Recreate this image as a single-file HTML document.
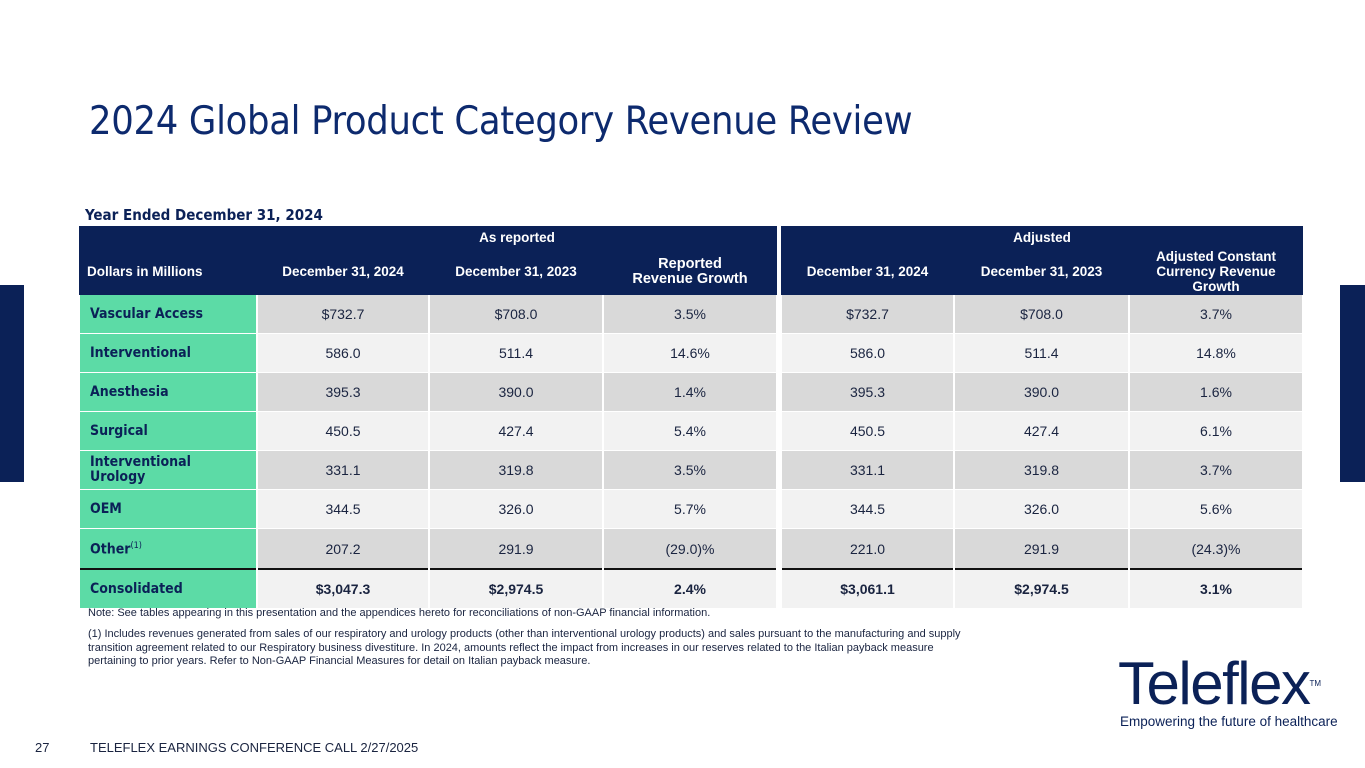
<!DOCTYPE html>
<html><head><meta charset="utf-8"><style>
body{margin:0;width:1365px;height:768px;background:#fff;position:relative;overflow:hidden;font-family:"Liberation Sans",sans-serif;color:#0b1f4f}
.abs{position:absolute}
h1{position:absolute;left:89px;top:98px;margin:0;font-weight:normal;font-size:39.4px;color:#0d2a6e;font-family:"DejaVu Sans Condensed","Liberation Sans",sans-serif;letter-spacing:-0.3px}
table{position:absolute;left:78px;top:226px;border-collapse:collapse;table-layout:fixed}
td{border:2px solid #fff;border-top:0;border-bottom:1px solid #fff;text-align:center;font-size:14px;color:#1a2440;padding:0;height:38px}
tr.h td{background:#0b2157;color:#fff;font-weight:bold;border:0;font-size:13.5px;height:auto;line-height:15px}
td.l{background:#5cdba6;text-align:left;padding-left:10px;font-weight:bold;color:#0b2157;font-family:"DejaVu Sans Condensed","Liberation Sans",sans-serif;font-size:14px;line-height:15px}
tr.d td:not(.l):not(.g){background:#d9d9d9}
tr.w td:not(.l):not(.g){background:#f2f2f2}
td.g{background:#fff!important;border:0}
tr.c td{font-weight:bold;border-top:2px solid #111}
tr.c td.g{border-top:0}
</style></head><body>
<div class="abs" style="left:0;top:285px;width:24px;height:197px;background:#0b2157"></div>
<div class="abs" style="left:1340px;top:285px;width:25px;height:197px;background:#0b2157"></div>
<h1>2024 Global Product Category Revenue Review</h1>
<div class="abs" style="left:85px;top:206px;font-size:15px;font-weight:bold;color:#0b2157;font-family:'DejaVu Sans Condensed','Liberation Sans',sans-serif">Year Ended December 31, 2024</div>
<table>
<colgroup><col style="width:178px"><col style="width:172px"><col style="width:174px"><col style="width:174px"><col style="width:4px"><col style="width:173px"><col style="width:175px"><col style="width:174px"></colgroup>
<tr class="h"><td style="height:22px"></td><td colspan="3" style="height:22px">As reported</td><td class="g"></td><td colspan="3">Adjusted</td></tr>
<tr class="h"><td style="text-align:left;padding-left:8px;height:47px">Dollars in Millions</td><td>December 31, 2024</td><td>December 31, 2023</td><td style="font-size:14.5px">Reported<br>Revenue Growth</td><td class="g"></td><td>December 31, 2024</td><td>December 31, 2023</td><td style="padding:0 18px">Adjusted Constant Currency Revenue Growth</td></tr>
<tr class="d"><td class="l">Vascular Access</td><td>$732.7</td><td>$708.0</td><td>3.5%</td><td class="g"></td><td>$732.7</td><td>$708.0</td><td>3.7%</td></tr>
<tr class="w"><td class="l">Interventional</td><td>586.0</td><td>511.4</td><td>14.6%</td><td class="g"></td><td>586.0</td><td>511.4</td><td>14.8%</td></tr>
<tr class="d"><td class="l">Anesthesia</td><td>395.3</td><td>390.0</td><td>1.4%</td><td class="g"></td><td>395.3</td><td>390.0</td><td>1.6%</td></tr>
<tr class="w"><td class="l">Surgical</td><td>450.5</td><td>427.4</td><td>5.4%</td><td class="g"></td><td>450.5</td><td>427.4</td><td>6.1%</td></tr>
<tr class="d"><td class="l">Interventional<br>Urology</td><td>331.1</td><td>319.8</td><td>3.5%</td><td class="g"></td><td>331.1</td><td>319.8</td><td>3.7%</td></tr>
<tr class="w"><td class="l">OEM</td><td>344.5</td><td>326.0</td><td>5.7%</td><td class="g"></td><td>344.5</td><td>326.0</td><td>5.6%</td></tr>
<tr class="d"><td class="l" style="height:39px">Other<sup style="font-size:9px;font-weight:normal">(1)</sup></td><td>207.2</td><td>291.9</td><td>(29.0)%</td><td class="g"></td><td>221.0</td><td>291.9</td><td>(24.3)%</td></tr>
<tr class="w c"><td class="l">Consolidated</td><td>$3,047.3</td><td>$2,974.5</td><td>2.4%</td><td class="g"></td><td>$3,061.1</td><td>$2,974.5</td><td>3.1%</td></tr>
</table>
<div class="abs" style="left:88px;top:607px;font-size:11px;color:#1a2440">Note: See tables appearing in this presentation and the appendices hereto for reconciliations of non-GAAP financial information.</div>
<div class="abs" style="left:88px;top:628px;width:895px;font-size:11px;line-height:13.5px;color:#1a2440">(1) Includes revenues generated from sales of our respiratory and urology products (other than interventional urology products) and sales pursuant to the manufacturing and supply transition agreement related to our Respiratory business divestiture. In 2024, amounts reflect the impact from increases in our reserves related to the Italian payback measure pertaining to prior years. Refer to Non-GAAP Financial Measures for detail on Italian payback measure.</div>
<div class="abs" style="left:1118px;top:655px;font-size:60px;font-weight:normal;color:#0b2157;letter-spacing:-1.5px;line-height:58px">Teleflex<span style="font-size:8px;vertical-align:top;letter-spacing:0">TM</span></div>
<div class="abs" style="left:1120px;top:714px;font-size:13.5px;color:#0b2157">Empowering the future of healthcare</div>
<div class="abs" style="left:35px;top:740px;font-size:13px;color:#1a2440">27</div>
<div class="abs" style="left:90px;top:740px;font-size:13px;color:#1a2440">TELEFLEX EARNINGS CONFERENCE CALL 2/27/2025</div>
</body></html>
